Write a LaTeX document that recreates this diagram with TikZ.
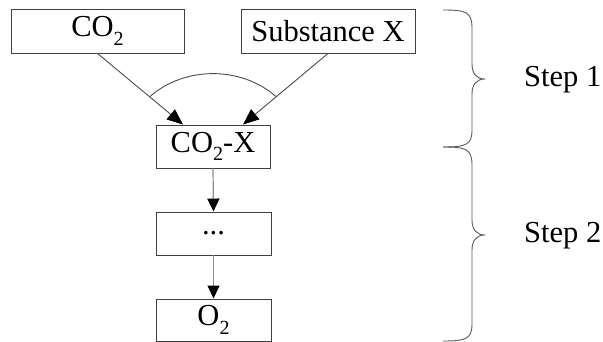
\documentclass[tikz,border=0pt]{standalone}
\usepackage{fontspec}
\setmainfont{Liberation Serif}
\usetikzlibrary{arrows.meta}
\newcommand{\lowsub}[1]{\raisebox{-0.28em}{\fontsize{20}{20}\selectfont #1}}
\tikzset{
  box/.style={draw=black!75, line width=0.9pt, rectangle, inner sep=0pt,
    font=\fontsize{30.5}{35}\selectfont},
  conn/.style={draw=black!70, line width=0.9pt, -{Triangle[length=16pt,width=13pt,fill=black,color=black]}},
  vconn/.style={draw=black!45, line width=1.2pt, -{Triangle[length=13pt,width=12pt,fill=black,color=black]}},
  bracepath/.style={draw=black!65, line width=0.9pt},
  steplabel/.style={font=\fontsize{30.5}{35}\selectfont, anchor=west, inner sep=0pt}
}
\begin{document}
\begin{tikzpicture}[x=1pt,y=-1pt]
\useasboundingbox (0,0) rectangle (603,342);
\node[box, minimum width=173pt, minimum height=44pt] (co2) at (97.5,31) {CO\lowsub{2}};
\node[box, minimum width=174pt, minimum height=44pt] (subx) at (328,31) {Substance X};
\node[box, minimum width=114pt, minimum height=43pt] (cox) at (213,146.5) {CO\lowsub{2}-X};
\node[box, minimum width=115pt, minimum height=43pt] (dots) at (213.5,233.5) {...};
\node[box, minimum width=115pt, minimum height=42pt] (o2) at (213.5,320) {O\lowsub{2}};
\draw[conn] (co2.south) -- ([xshift=-30pt]cox.north);
\draw[conn] (subx.south) -- ([xshift=30pt]cox.north);
\draw[vconn] (cox.south) -- (dots.north);
\draw[vconn] (dots.south) -- (o2.north);
\coordinate (arcl) at (150,96.5);
\coordinate (arcr) at (276,96.5);
\draw[draw=black!70, line width=0.9pt] (arcl) .. controls (185,66) and (241,66) .. (arcr);
% brace 1
\draw[bracepath] (443,10) .. controls (466,10) and (472,12) .. (472,28) -- (472,64)
  .. controls (472,74) and (477,79) .. (485,79)
  .. controls (477,79) and (472,84) .. (472,94) -- (472,130)
  .. controls (472,145) and (466,147) .. (443,147);
% brace 2
\draw[bracepath] (443,147) .. controls (466,147) and (472,149) .. (472,165) -- (472,220)
  .. controls (472,230) and (477,235) .. (485,235)
  .. controls (477,235) and (472,240) .. (472,250) -- (472,324)
  .. controls (472,339) and (466,341) .. (443,341);
\node[steplabel] (s1) at (524,80) {Step 1};
\node[steplabel] (s2) at (524,236) {Step 2};
\end{tikzpicture}
\end{document}
